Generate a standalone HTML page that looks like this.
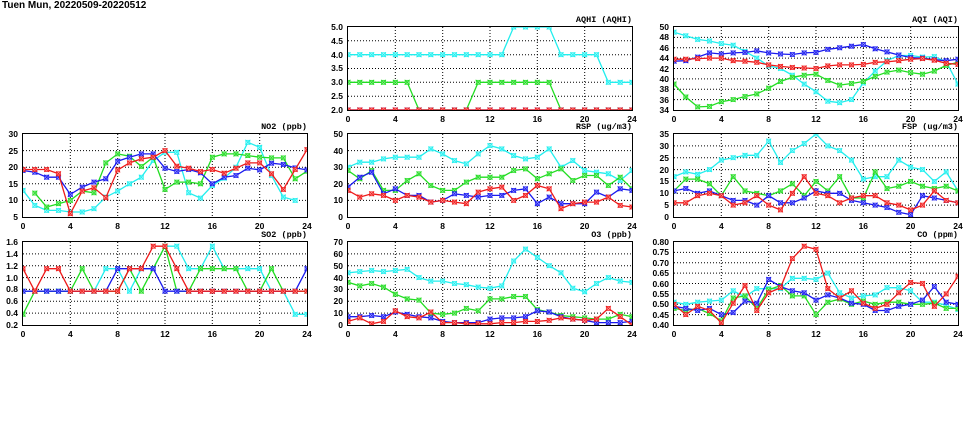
<!DOCTYPE html>
<html><head><meta charset="utf-8">
<style>
body{margin:0;width:975px;height:447px;background:#fff;position:relative;overflow:hidden;font-family:"Liberation Sans",sans-serif;}
.t{position:absolute;left:2px;top:0px;font-size:10px;font-weight:bold;}
.p{position:absolute;width:284px;height:83px;border:1px solid #000;}
.p svg{position:absolute;left:0;top:0;}
.nm{position:absolute;right:0;top:-12px;font:bold 8.5px "Liberation Mono",monospace;white-space:nowrap;}
.yl{position:absolute;right:289px;top:-5px;height:93px;display:flex;flex-direction:column;justify-content:space-between;text-align:right;font:bold 8.5px "Liberation Sans",sans-serif;line-height:10px;}
.xl{position:absolute;left:-10px;top:87px;width:304px;display:flex;justify-content:space-between;font:bold 8.5px "Liberation Sans",sans-serif;line-height:10px;}
.xl span{width:20px;text-align:center;}
</style></head><body>
<div class="t">Tuen Mun, 20220509-20220512</div>

<div class="p" id="aqhi" style="left:347px;top:26px"><div class="nm">AQHI (AQHI)</div>
<div class="yl"><span>5.0</span><span>4.5</span><span>4.0</span><span>3.5</span><span>3.0</span><span>2.5</span><span>2.0</span></div>
<div class="xl"><span>0</span><span>4</span><span>8</span><span>12</span><span>16</span><span>20</span><span>24</span></div></div>

<div class="p" id="aqi" style="left:673px;top:26px"><div class="nm">AQI (AQI)</div>
<div class="yl"><span>50</span><span>48</span><span>46</span><span>44</span><span>42</span><span>40</span><span>38</span><span>36</span><span>34</span></div>
<div class="xl"><span>0</span><span>4</span><span>8</span><span>12</span><span>16</span><span>20</span><span>24</span></div></div>

<div class="p" id="no2" style="left:22px;top:133px"><div class="nm">NO2 (ppb)</div>
<div class="yl"><span>30</span><span>25</span><span>20</span><span>15</span><span>10</span><span>5</span></div>
<div class="xl"><span>0</span><span>4</span><span>8</span><span>12</span><span>16</span><span>20</span><span>24</span></div></div>

<div class="p" id="rsp" style="left:347px;top:133px"><div class="nm">RSP (ug/m3)</div>
<div class="yl"><span>50</span><span>40</span><span>30</span><span>20</span><span>10</span><span>0</span></div>
<div class="xl"><span>0</span><span>4</span><span>8</span><span>12</span><span>16</span><span>20</span><span>24</span></div></div>

<div class="p" id="fsp" style="left:673px;top:133px"><div class="nm">FSP (ug/m3)</div>
<div class="yl"><span>35</span><span>30</span><span>25</span><span>20</span><span>15</span><span>10</span><span>5</span><span>0</span></div>
<div class="xl"><span>0</span><span>4</span><span>8</span><span>12</span><span>16</span><span>20</span><span>24</span></div></div>

<div class="p" id="so2" style="left:22px;top:241px"><div class="nm">SO2 (ppb)</div>
<div class="yl"><span>1.6</span><span>1.4</span><span>1.2</span><span>1.0</span><span>0.8</span><span>0.6</span><span>0.4</span><span>0.2</span></div>
<div class="xl"><span>0</span><span>4</span><span>8</span><span>12</span><span>16</span><span>20</span><span>24</span></div></div>

<div class="p" id="o3" style="left:347px;top:241px"><div class="nm">O3 (ppb)</div>
<div class="yl"><span>70</span><span>60</span><span>50</span><span>40</span><span>30</span><span>20</span><span>10</span><span>0</span></div>
<div class="xl"><span>0</span><span>4</span><span>8</span><span>12</span><span>16</span><span>20</span><span>24</span></div></div>

<div class="p" id="co" style="left:673px;top:241px"><div class="nm">CO (ppm)</div>
<div class="yl"><span>0.80</span><span>0.75</span><span>0.70</span><span>0.65</span><span>0.60</span><span>0.55</span><span>0.50</span><span>0.45</span><span>0.40</span></div>
<div class="xl"><span>0</span><span>4</span><span>8</span><span>12</span><span>16</span><span>20</span><span>24</span></div></div>

<script>
var N=null;
var D={
aqhi:[2,5,0.5,[
[4,4,4,4,4,4,4,4,4,4,4,4,4,4,5,5,5,5,4,4,4,4,3,3,3],
[3,3,3,3,3,3,2,2,2,2,2,3,3,3,3,3,3,3,2,2,2,2,2,2,2],
[2,2,2,2,2,2,2,2,2,2,2,2,2,2,2,2,2,2,2,2,2,2,2,2,2],
[2,2,2,2,2,2,2,2,2,2,2,2,2,2,2,2,2,2,2,2,2,2,2,2,2]]],
aqi:[34,50,2,[
[49,48.3,47.6,47.3,46.8,46.5,45.3,44,42.5,42,40.7,39,37.5,35.7,35.4,36,39.2,41.5,43.5,44.5,44.5,44.2,44.3,43.3,39],
[39,36.5,34.6,34.7,35.6,36,36.6,37.1,38.2,39.5,40.3,40.7,40.9,39.7,38.8,39.1,39.5,40.5,41.3,41.7,41.2,40.9,41.5,42.6,43.2],
[43.4,43.5,44.2,45,44.8,45,45.1,45.4,45,44.8,44.7,45,45.1,45.7,46,46.3,46.6,45.8,45.2,44.6,44.1,44,43.7,43.5,43.8],
[43.8,43.8,43.9,44,44,43.5,43.4,43.2,42.7,42.4,42.2,42.1,42,42.5,42.7,42.7,42.8,43.2,43.3,43.5,43.8,43.9,43.6,43,42.8]]],
no2:[5,30,5,[
[13,8.5,7,7,6.5,6.5,7.5,11,12.8,15,17,22,24.5,24.5,12.3,10.7,14.5,16.7,20,27.5,26,17.5,11,10,N],
[N,12.2,8,9,10,12.8,12.3,21.3,24,23.3,20.2,23,13.3,15.5,15.5,15,23,24,24,23.5,23,22.8,22.8,16.5,18.8],
[19,18.5,17,17,11.8,14,15.5,16.5,21.8,23,24,24,19.7,18.7,19.3,18.3,15,17,17.5,19.7,19.2,21.2,20.8,19.8,19.2],
[19.3,19.3,19.3,18,6,12.8,13.8,10.8,19.2,21.3,22.5,23,25,20.3,19.7,18.7,19.3,18.2,19.7,21.3,21.3,18,13.3,19.3,25.3]]],
rsp:[0,50,10,[
[30,33,33,35,36,36,36,41,38,34,32,38,43,41,37,35,36,41,30,34,28,27,26,22,28],
[28,23,28,16,16,22,26,19,16,16,21,24,24,24,28,29,23,26,29,22,25,25,19,24,17],
[18,24,27,14,17,13,13,9,10,14,13,12,13,13,16,17,8,12,8,8,8,15,12,17,16],
[16,12,14,13,10,13,12,9,10,9,8,15,17,18,10,13,19,17,5,8,9,9,12,7,6]]],
fsp:[0,35,5,[
[17,19,18,20,24,25,26,26,32,23,28,31,35,30,28,24,16,17,17,24,21,20,15,19,11],
[11,16,16,14,9,17,11,10,9,11,14,9,15,11,17,8,8,19,12,13,15,13,12,13,11],
[11,12,10,11,9,7,7,5,9,6,6,8,11,10,10,7,6,5,4,2,1,9,8,7,6],
[6,6,9,10,9,5,6,9,5,3,10,17,10,9,6,8,9,9,6,5,3,5,11,7,6]]],
so2:[0.2,1.6,0.2,[
[.77,.77,.77,.77,.77,.77,.77,1.15,1.15,.77,1.15,1.15,1.53,1.53,1.15,1.15,1.53,1.15,1.15,1.15,1.15,.77,.77,.38,.38],
[.38,.77,.77,.77,.77,1.15,.77,.77,.77,1.15,.77,1.15,1.53,.77,.77,1.15,1.15,1.15,1.15,.77,.77,1.15,.77,.77,.77],
[.77,.77,.77,.77,.77,.77,.77,.77,1.15,1.15,1.15,1.15,.77,.77,.77,.77,.77,.77,.77,.77,.77,.77,.77,.77,1.15],
[1.15,.77,1.15,1.15,.77,.77,.77,.77,.77,1.15,1.15,1.53,1.53,1.15,.77,.77,.77,.77,.77,.77,.77,.77,.77,.77,.77]]],
o3:[0,70,10,[
[44,45,46,45,46,47,40,37,37,35,34,32,31,33,54,64,57,50,44,31,28,35,40,37,36],
[36,33,35,32,26,22,21,10,9,10,14,12,22,22,24,24,13,11,8,7,6,5,5,9,7],
[7,7,8,7,11,9,7,6,3,2,2,2,5,6,6,7,12,11,7,5,4,2,2,2,3],
[3,6,1,3,12,7,6,11,2,2,1,1,1,2,2,3,3,4,6,5,4,5,14,7,0]]],
co:[0.4,0.8,0.05,[
[.51,.50,.51,.515,.52,.565,.535,.575,.575,.575,.625,.625,.62,.65,.555,.53,.54,.545,.58,.58,.565,.51,.51,.495,.475],
[.48,.47,.48,.455,.42,.53,.54,.48,.57,.59,.54,.54,.45,.51,.525,.50,.515,.50,.51,.51,.50,.50,.505,.48,.48],
[.49,.48,.47,.48,.45,.46,.515,.505,.62,.585,.565,.555,.52,.545,.53,.505,.50,.47,.47,.49,.50,.52,.585,.51,.50],
[.50,.45,.49,.47,.41,.505,.59,.47,.555,.58,.72,.78,.765,.575,.53,.565,.505,.48,.50,.555,.605,.60,.49,.55,.635]]]
};
var cols=["#22eeee","#22dd22","#1a1aee","#ee1a1a"],fills=["#aff","#aea","#aaf","#faa"];
var W=284,H=83;
for(var id in D){
 var d=D[id],lo=d[0],hi=d[1],st=d[2],s='';
 var n=Math.round((hi-lo)/st);
 for(var k=1;k<n;k++){var y=(H-k*H/n).toFixed(1);s+='<line x1="0" x2="'+W+'" y1="'+y+'" y2="'+y+'" stroke="#000" stroke-width="1" stroke-dasharray="1,2"/>';}
 for(var h=4;h<24;h+=4){var x=(h*W/24).toFixed(1);s+='<line y1="0" y2="'+H+'" x1="'+x+'" x2="'+x+'" stroke="#000" stroke-width="1" stroke-dasharray="1,2"/>';}
 d[3].forEach(function(ser,ci){
  var pts=[],segs=[],m='';
  ser.forEach(function(v,i){
   if(v===null){if(pts.length)segs.push(pts);pts=[];return;}
   var x=i*W/24,y=H-(v-lo)/(hi-lo)*H;y=Math.max(0,Math.min(H,y));
   pts.push(x.toFixed(1)+','+y.toFixed(1));
   m+='<rect x="'+(x-2).toFixed(1)+'" y="'+(y-2).toFixed(1)+'" width="4" height="4" fill="'+fills[ci]+'" stroke="'+cols[ci]+'" stroke-width="0.7"/>'+
      '<path d="M'+(x-2.5)+' '+(y-2.5)+'l5 5M'+(x+2.5)+' '+(y-2.5)+'l-5 5" stroke="'+cols[ci]+'" stroke-width="0.8"/>';
  });
  if(pts.length)segs.push(pts);
  segs.forEach(function(p){s+='<polyline points="'+p.join(' ')+'" fill="none" stroke="'+cols[ci]+'" stroke-width="1.3"/>';});
  s+=m;
 });
 var el=document.getElementById(id);
 el.insertAdjacentHTML('afterbegin','<svg width="'+W+'" height="'+H+'" style="overflow:hidden">'+s+'</svg>');
}
</script>
</body></html>
